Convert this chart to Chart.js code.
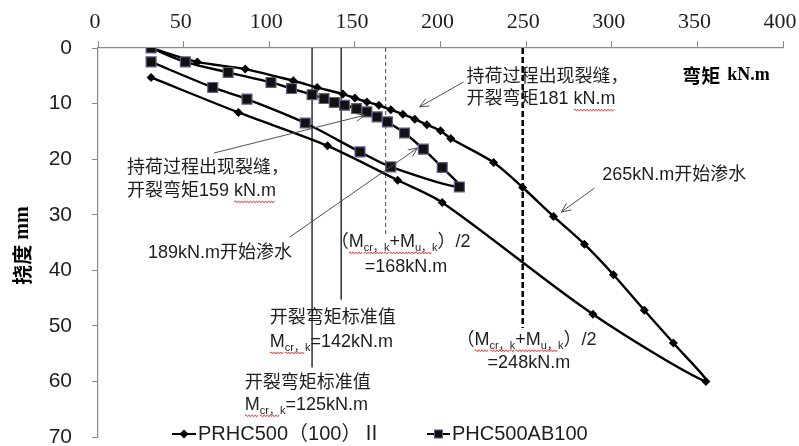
<!DOCTYPE html>
<html>
<head>
<meta charset="utf-8">
<script src="https://cdn.jsdelivr.net/npm/chart.js@4.4.0/dist/chart.umd.min.js"></script>
<style>
  html, body { margin: 0; padding: 0; background: #fff; }
  canvas { display: block; }
</style>
</head>
<body>
<canvas id="chart" width="799" height="446"></canvas>
<script>
// Bending moment (kN.m) against deflection (mm); each series runs the loading branch, then the unloading branch
const prhcMoment     = [31, 58, 86, 114, 128, 143, 150, 157, 164, 171, 178, 185, 192, 200, 206, 231, 248, 266, 284, 301, 319, 336, 355, 289, 201, 175, 134, 82, 31];
const prhcDeflection = [0, 2.5, 3.8, 5.9, 7.1, 8.3, 9.0, 9.7, 10.3, 11.1, 11.9, 12.8, 13.8, 14.9, 16.3, 20.6, 25.1, 30.3, 35.3, 40.8, 47.2, 53.1, 60.0, 47.9, 27.8, 23.8, 17.6, 11.6, 5.3];
const phcMoment      = [31, 51, 76, 101, 113, 125, 132, 138, 144, 151, 157, 163, 169, 179, 190, 201, 211, 171, 153, 121, 87, 67, 31];
const phcDeflection  = [0, 2.5, 4.4, 6.2, 7.3, 8.4, 9.1, 9.8, 10.3, 10.9, 11.5, 12.4, 13.3, 15.3, 18.2, 21.5, 25.0, 21.4, 18.7, 13.5, 9.2, 7.1, 2.5];
const seriesNames    = ['PRHC500（100）Ⅱ', 'PHC500AB100'];

// Reference moments: cracking standard values and (Mcr,k+Mu,k)/2, with the depth each line reaches
const refMoments   = [125, 142, 168, 248];
const refLineEnds  = [57.5, 45.3, 33.8, 50.4];

// Axis ticks
const momentTicks     = [0, 50, 100, 150, 200, 250, 300, 350, 400];
const deflectionTicks = [0, 10, 20, 30, 40, 50, 60, 70];

const toPoints = (xs, ys) => xs.map((x, i) => ({ x, y: ys[i] }));

const AXIS = '#8a8a8a';
const TEXT = '#1e1e1e';
const SANS = "'Liberation Sans', 'Noto Sans CJK SC', sans-serif";
const CJK  = "'Noto Sans CJK SC', 'Liberation Sans', sans-serif";
const SERIF = "'Liberation Serif', 'Noto Sans CJK SC', serif";

const refStyles = [
  { borderColor: '#111', borderWidth: 1.3, borderDash: [] },
  { borderColor: '#111', borderWidth: 1.3, borderDash: [] },
  { borderColor: '#444', borderWidth: 1,   borderDash: [4, 3] },
  { borderColor: '#000', borderWidth: 2.5, borderDash: [6, 3] }
];

const refDatasets = refMoments.map((m, i) => Object.assign({
  label: 'ref' + i,
  data: [{ x: m, y: 0 }, { x: m, y: refLineEnds[i] }],
  showLine: true,
  pointRadius: 0,
  tension: 0,
  order: 3
}, refStyles[i]));

// Text notes, placed in data units (left edge, vertical middle). Run flags: s = subscript, w = wavy underline
const notes = [
  { x: 215.2, y: 5.2,  runs: [['持荷过程出现裂缝，']] },
  { x: 215.2, y: 9.2,  runs: [['开裂弯矩181 '], ['kN.m', 'w']] },
  { x: 16.9,  y: 21.6, runs: [['持荷过程出现裂缝，']] },
  { x: 16.9,  y: 25.7, runs: [['开裂弯矩159 '], ['kN.m', 'w']] },
  { x: 29.2,  y: 36.9, runs: [['189kN.m开始渗水']] },
  { x: 135.9, y: 34.9, runs: [['（'], ['M', 'w'], ['cr，', 'sw'], ['k', 'sw'], ['+M', 'w'], ['u，', 'sw'], ['k', 's'], ['）/2']] },
  { x: 155.7, y: 39.4, runs: [['=168kN.m']] },
  { x: 100.3, y: 48.6, runs: [['开裂弯矩标准值']] },
  { x: 100.3, y: 52.9, runs: [['M', 'w'], ['cr，', 'sw'], ['k', 's'], ['=142kN.m']] },
  { x: 85.7,  y: 60.3, runs: [['开裂弯矩标准值']] },
  { x: 85.7,  y: 64.2, runs: [['M', 'w'], ['cr，', 'sw'], ['k', 's'], ['=125kN.m']] },
  { x: 209.4, y: 52.5, runs: [['（'], ['M', 'w'], ['cr，', 'sw'], ['k', 'sw'], ['+M', 'w'], ['u，', 'sw'], ['k', 's'], ['）/2']] },
  { x: 227.5, y: 56.7, runs: [['=248kN.m']] },
  { x: 294.5, y: 22.9, runs: [['265kN.m开始渗水']] }
];

// Leader arrows: [fromMoment, fromDeflection, toMoment, toDeflection]
const arrows = [
  [213.5, 6.1, 187.8, 10.6],
  [67.7, 18.9, 155.7, 12.1],
  [112.0, 34.0, 186.6, 18.0],
  [289.9, 25.2, 270.6, 29.5]
];

function wavy(ctx, x1, x2, y) {
  ctx.save();
  ctx.strokeStyle = '#e0302a';
  ctx.lineWidth = 0.9;
  ctx.beginPath();
  let up = true;
  ctx.moveTo(x1, y);
  for (let x = x1 + 1.5; x <= x2; x += 1.5) {
    ctx.lineTo(x, y + (up ? -1 : 1));
    up = !up;
  }
  ctx.stroke();
  ctx.restore();
}

function drawRuns(ctx, x, y, runs) {
  let cx = x;
  ctx.textBaseline = 'middle';
  ctx.textAlign = 'left';
  ctx.fillStyle = TEXT;
  for (const [t, flags = ''] of runs) {
    const sub = flags.includes('s');
    ctx.font = sub ? `11px ${SANS}` : `18px ${SANS}`;
    const w = ctx.measureText(t).width;
    ctx.fillText(t, cx, y + (sub ? 6 : 0));
    if (flags.includes('w')) wavy(ctx, cx, cx + w, y + 11);
    cx += w;
  }
}

function arrow(ctx, x1, y1, x2, y2) {
  const a = Math.atan2(y2 - y1, x2 - x1), L = 10, sp = 0.42;
  ctx.beginPath();
  ctx.moveTo(x1, y1);
  ctx.lineTo(x2, y2);
  ctx.moveTo(x2 - L * Math.cos(a - sp), y2 - L * Math.sin(a - sp));
  ctx.lineTo(x2, y2);
  ctx.lineTo(x2 - L * Math.cos(a + sp), y2 - L * Math.sin(a + sp));
  ctx.stroke();
}

const notesPlugin = {
  id: 'notes',
  afterDraw(chart) {
    const { ctx, scales: { x, y } } = chart;
    ctx.save();

    // leader arrows
    ctx.strokeStyle = '#505050';
    ctx.lineWidth = 1;
    arrows.forEach(([m1, d1, m2, d2]) => {
      arrow(ctx, x.getPixelForValue(m1), y.getPixelForValue(d1), x.getPixelForValue(m2), y.getPixelForValue(d2));
    });

    // notes
    notes.forEach(n => drawRuns(ctx, x.getPixelForValue(n.x), y.getPixelForValue(n.y), n.runs));

    // x axis title
    const tx = x.getPixelForValue(341.2), ty = y.getPixelForValue(5.0);
    ctx.fillStyle = '#000';
    ctx.textBaseline = 'middle';
    ctx.font = `bold 19px ${CJK}`;
    ctx.fillText('弯矩', tx, ty);
    const w1 = ctx.measureText('弯矩').width;
    ctx.font = `bold 18px ${SERIF}`;
    ctx.fillText('kN.m', tx + w1 + 7, ty);

    // y axis title (rotated)
    ctx.save();
    ctx.translate(22, (chart.chartArea.top + chart.chartArea.bottom) / 2 + 3);
    ctx.rotate(-Math.PI / 2);
    ctx.textAlign = 'left';
    ctx.font = `bold 20px ${CJK}`;
    const wa = ctx.measureText('挠度').width;
    ctx.font = `bold 20px ${SERIF}`;
    const wb = ctx.measureText(' mm').width;
    let sx = -(wa + wb) / 2;
    ctx.font = `bold 20px ${CJK}`;
    ctx.fillText('挠度', sx, 0);
    ctx.font = `bold 20px ${SERIF}`;
    ctx.fillText(' mm', sx + wa, 1);
    ctx.restore();

    // legend
    const ly = 434;
    ctx.strokeStyle = '#000';
    ctx.lineWidth = 2;
    ctx.beginPath(); ctx.moveTo(172, ly); ctx.lineTo(196, ly); ctx.stroke();
    ctx.fillStyle = '#000';
    ctx.beginPath();
    ctx.moveTo(184, ly - 4.5); ctx.lineTo(188.5, ly); ctx.lineTo(184, ly + 4.5); ctx.lineTo(179.5, ly);
    ctx.closePath(); ctx.fill();
    ctx.beginPath(); ctx.moveTo(427, ly); ctx.lineTo(450, ly); ctx.stroke();
    ctx.fillStyle = '#111';
    ctx.fillRect(434.5, ly - 4, 8, 8);
    ctx.strokeStyle = '#5c5c85'; ctx.lineWidth = 1;
    ctx.strokeRect(434.5, ly - 4, 8, 8);
    ctx.fillStyle = TEXT;
    ctx.font = `20px ${SANS}`;
    ctx.textBaseline = 'middle';
    ctx.fillText(seriesNames[0], 198, ly);
    ctx.fillText(seriesNames[1], 452, ly);

    ctx.restore();
  }
};

new Chart(document.getElementById('chart'), {
  type: 'scatter',
  data: {
    datasets: [
      {
        label: seriesNames[0],
        data: toPoints(prhcMoment, prhcDeflection),
        showLine: true,
        tension: 0.3,
        borderColor: '#000',
        borderWidth: 2.4,
        pointStyle: 'rectRot',
        pointRadius: 4.5,
        pointBackgroundColor: '#000',
        pointBorderColor: '#000',
        pointBorderWidth: 0,
        order: 2
      },
      {
        label: seriesNames[1],
        data: toPoints(phcMoment, phcDeflection),
        showLine: true,
        tension: 0.3,
        borderColor: '#000',
        borderWidth: 2.4,
        pointStyle: 'rect',
        pointRadius: 7,
        pointBackgroundColor: '#111',
        pointBorderColor: '#5c5c85',
        pointBorderWidth: 1.2,
        order: 1
      },
      ...refDatasets
    ]
  },
  options: {
    responsive: false,
    animation: false,
    devicePixelRatio: 1,
    layout: { padding: { left: 0, top: 0, right: 16, bottom: 9 } },
    plugins: { legend: { display: false }, tooltip: { enabled: false } },
    scales: {
      x: {
        type: 'linear',
        position: 'top',
        min: 0,
        max: 400,
        afterFit: s => { s.height = 48; s.paddingLeft = 0; s.paddingRight = 0; },
        afterBuildTicks: s => { s.ticks = momentTicks.map(v => ({ value: v })); },
        ticks: { font: { family: "'Liberation Serif', serif", size: 22 }, color: TEXT, padding: 6, labelOffset: -3, maxRotation: 0, autoSkip: false },
        grid: { drawOnChartArea: false, tickLength: 7, color: AXIS, lineWidth: 1 },
        border: { color: AXIS, width: 1.2 }
      },
      y: {
        type: 'linear',
        reverse: true,
        min: 0,
        max: 70,
        afterFit: s => { s.width = 98; s.paddingTop = 0; s.paddingBottom = 0; },
        afterBuildTicks: s => { s.ticks = deflectionTicks.map(v => ({ value: v })); },
        ticks: { font: { family: "'Liberation Sans', sans-serif", size: 21 }, color: TEXT, padding: 20, autoSkip: false },
        grid: { drawOnChartArea: false, tickLength: 6, color: AXIS, lineWidth: 1 },
        border: { color: AXIS, width: 1.2 }
      }
    }
  },
  plugins: [notesPlugin]
});
</script>
</body>
</html>
